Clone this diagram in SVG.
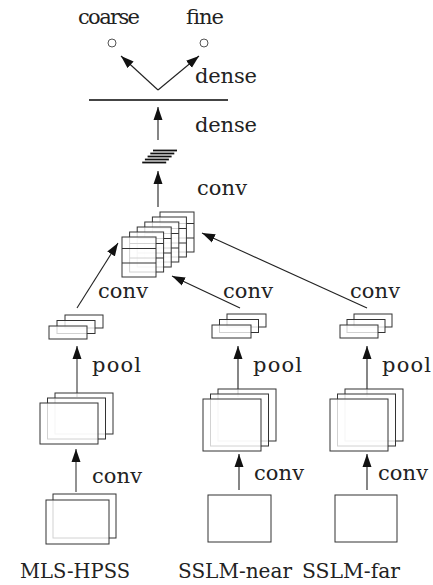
<svg xmlns="http://www.w3.org/2000/svg" width="433" height="585" viewBox="0 0 433 585">
<style>
.t{font-family:'DejaVu Serif','Liberation Serif','Noto Serif',serif;font-size:21px;fill:#222}
.l{fill:#fff;fill-opacity:0.78;stroke:#333;stroke-width:1}
.s{fill:#fff;stroke:#333;stroke-width:1}
.e{stroke:#222;stroke-width:1.1;fill:none}
.g{stroke:#777;stroke-width:1.6;fill:none}
.d{stroke:#333;stroke-width:1}
</style>
<defs>
<marker id="ah" markerUnits="userSpaceOnUse" markerWidth="14" markerHeight="10" refX="13" refY="5" orient="auto"><path d="M0,0.5 L13,5 L0,9.5 z" fill="#111"/></marker>
<g id="cell"><rect class="l" x="0" y="0" width="34" height="40"/><line class="d" x1="0" y1="11.5" x2="34" y2="11.5"/><line class="d" x1="0" y1="26" x2="34" y2="26"/></g>
</defs>
<g id="connectors">
<line class="e" x1="158" y1="90" x2="121" y2="56" marker-end="url(#ah)"/>
<line class="e" x1="158" y1="90" x2="199" y2="56" marker-end="url(#ah)"/>
<line class="e" x1="158" y1="140" x2="158" y2="107" marker-end="url(#ah)"/>
<line class="e" x1="158" y1="207" x2="158" y2="171" marker-end="url(#ah)"/>
<line class="e" x1="77" y1="308" x2="118" y2="243" marker-end="url(#ah)"/>
<line class="e" x1="240" y1="308" x2="172" y2="276" marker-end="url(#ah)"/>
<line class="e" x1="367" y1="308" x2="202" y2="233" marker-end="url(#ah)"/>
<line class="g" x1="77" y1="397" x2="77" y2="346" marker-end="url(#ah)"/>
<line class="e" x1="238" y1="397" x2="238" y2="346" marker-end="url(#ah)"/>
<line class="e" x1="367" y1="397" x2="367" y2="346" marker-end="url(#ah)"/>
<line class="g" x1="76" y1="492" x2="76" y2="449" marker-end="url(#ah)"/>
<line class="e" x1="239" y1="490" x2="239" y2="454" marker-end="url(#ah)"/>
<line class="e" x1="367" y1="490" x2="367" y2="454" marker-end="url(#ah)"/>
</g>
<g id="outputs">
<circle cx="112" cy="43" r="4" fill="none" stroke="#555" stroke-width="1"/>
<circle cx="204" cy="43" r="4" fill="none" stroke="#555" stroke-width="1"/>
<text class="t" x="78" y="24" textLength="62">coarse</text>
<text class="t" x="185" y="24" textLength="38">fine</text>
</g>
<g id="dense1">
<line x1="89" y1="100" x2="228" y2="100" stroke="#444" stroke-width="2"/>
<text class="t" x="195" y="83" textLength="62">dense</text>
<text class="t" x="195" y="132" textLength="62">dense</text>
</g>
<g id="dense2" stroke="#111" stroke-width="1.8">
<line x1="153" y1="150.5" x2="177" y2="150.5"/>
<line x1="150.3" y1="153.5" x2="174.3" y2="153.5"/>
<line x1="147.6" y1="156.5" x2="171.6" y2="156.5"/>
<line x1="144.9" y1="159.5" x2="168.9" y2="159.5"/>
<line x1="142.2" y1="162.5" x2="166.2" y2="162.5"/>
</g>
<g id="concat">
<use href="#cell" x="160" y="212"/>
<use href="#cell" x="152.4" y="217"/>
<use href="#cell" x="144.8" y="222"/>
<use href="#cell" x="137.2" y="227"/>
<use href="#cell" x="129.6" y="232"/>
<use href="#cell" x="122" y="237"/>
<text class="t" x="197" y="195" textLength="50">conv</text>
</g>
<g id="pool-mls">
<rect class="l" x="65" y="315" width="38" height="13"/>
<rect class="l" x="57" y="320.5" width="38" height="13"/>
<rect class="l" x="49" y="326" width="38" height="13"/>
<text class="t" x="98" y="298" textLength="50">conv</text>
<text class="t" x="92" y="372" textLength="49">pool</text>
</g>
<g id="pool-near">
<rect class="l" x="227" y="314" width="39" height="13"/>
<rect class="l" x="219.5" y="319.5" width="39" height="13"/>
<rect class="l" x="212" y="325" width="39" height="13"/>
<text class="t" x="223" y="298" textLength="50">conv</text>
<text class="t" x="253" y="372" textLength="49">pool</text>
</g>
<g id="pool-far">
<rect class="l" x="354" y="314" width="38" height="13"/>
<rect class="l" x="347" y="319.5" width="38" height="13"/>
<rect class="l" x="340" y="325" width="38" height="13"/>
<text class="t" x="350" y="298" textLength="50">conv</text>
<text class="t" x="382" y="372" textLength="49">pool</text>
</g>
<g id="conv-mls">
<rect class="l" x="55" y="393" width="58" height="41"/>
<rect class="l" x="47.5" y="398" width="58" height="41"/>
<rect class="l" x="40" y="403" width="58" height="41"/>
<text class="t" x="92" y="483" textLength="50">conv</text>
</g>
<g id="conv-near">
<rect class="l" x="218" y="389" width="58" height="52"/>
<rect class="l" x="210.5" y="394" width="58" height="52"/>
<rect class="l" x="203" y="399" width="58" height="52"/>
<text class="t" x="254" y="480" textLength="50">conv</text>
</g>
<g id="conv-far">
<rect class="l" x="345" y="389" width="58" height="52"/>
<rect class="l" x="337.5" y="394" width="58" height="52"/>
<rect class="l" x="330" y="399" width="58" height="52"/>
<text class="t" x="378" y="480" textLength="50">conv</text>
</g>
<g id="input-mls">
<rect class="l" x="53" y="494" width="63" height="44"/>
<rect class="l" x="46" y="500" width="63" height="44"/>
<text class="t" x="20" y="578" textLength="110" lengthAdjust="spacingAndGlyphs">MLS-HPSS</text>
</g>
<g id="input-near">
<rect class="s" x="208" y="495" width="63" height="47"/>
<text class="t" x="178" y="578" textLength="114" lengthAdjust="spacingAndGlyphs">SSLM-near</text>
</g>
<g id="input-far">
<rect class="s" x="335" y="495" width="62" height="47"/>
<text class="t" x="302" y="578" textLength="98" lengthAdjust="spacingAndGlyphs">SSLM-far</text>
</g>
</svg>
